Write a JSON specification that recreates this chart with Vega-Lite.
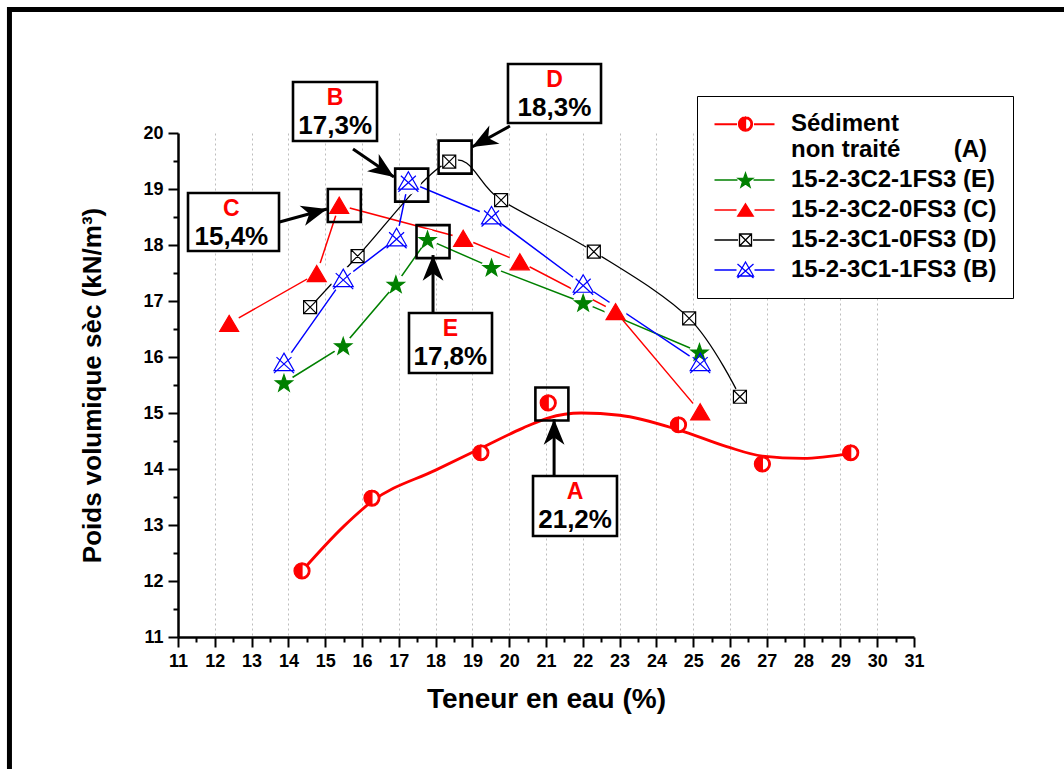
{
  "$schema": "https://vega.github.io/schema/vega-lite/v6.json",
  "width": 736,
  "height": 504,
  "autosize": "none",
  "padding": {"left": 178, "top": 133, "right": 150, "bottom": 132},
  "background": "white",
  "config": {
    "view": {"stroke": null},
    "font": "Liberation Sans",
    "axis": {
      "labelFont": "Liberation Sans", "labelFontWeight": "bold", "labelFontSize": 18, "labelColor": "black",
      "titleFont": "Liberation Sans", "titleFontWeight": "bold", "titleFontSize": 26, "titleColor": "black",
      "domainColor": "black", "domainWidth": 2.5, "tickColor": "black", "tickWidth": 2,
      "labelPadding": 5, "gridColor": "#bdbdbd", "gridDash": [2, 3], "gridWidth": 1
    },
    "legend": {
      "labelFont": "Liberation Sans", "labelFontWeight": "bold", "labelFontSize": 24, "labelColor": "black",
      "labelLimit": 400, "symbolSize": 400, "symbolStrokeWidth": 1.3, "padding": 16,
      "strokeColor": "black", "fillColor": "white", "rowPadding": 6, "labelOffset": 54
    }
  },
  "resolve": {"axis": {"x": "independent", "y": "independent"}},
  "datasets": {
    "pts": [
      {"s": "A", "x": 14.37, "y": 12.18}, {"s": "A", "x": 16.27, "y": 13.48}, {"s": "A", "x": 19.23, "y": 14.29},
      {"s": "A", "x": 21.06, "y": 15.18}, {"s": "A", "x": 24.6, "y": 14.79}, {"s": "A", "x": 26.88, "y": 14.09},
      {"s": "A", "x": 29.28, "y": 14.29},
      {"s": "E", "x": 13.88, "y": 15.54}, {"s": "E", "x": 15.49, "y": 16.2}, {"s": "E", "x": 16.92, "y": 17.3},
      {"s": "E", "x": 17.78, "y": 18.1}, {"s": "E", "x": 19.52, "y": 17.6}, {"s": "E", "x": 22.01, "y": 16.97},
      {"s": "E", "x": 25.17, "y": 16.09},
      {"s": "C", "x": 12.39, "y": 16.6}, {"s": "C", "x": 14.77, "y": 17.49}, {"s": "C", "x": 15.38, "y": 18.71},
      {"s": "C", "x": 18.75, "y": 18.12}, {"s": "C", "x": 20.29, "y": 17.7}, {"s": "C", "x": 22.89, "y": 16.81},
      {"s": "C", "x": 25.19, "y": 15.02},
      {"s": "D", "x": 14.59, "y": 16.89}, {"s": "D", "x": 15.88, "y": 17.8}, {"s": "D", "x": 18.37, "y": 19.49},
      {"s": "D", "x": 19.78, "y": 18.8}, {"s": "D", "x": 22.3, "y": 17.88}, {"s": "D", "x": 24.89, "y": 16.69},
      {"s": "D", "x": 26.27, "y": 15.29},
      {"s": "B", "x": 13.88, "y": 15.89}, {"s": "B", "x": 15.49, "y": 17.39}, {"s": "B", "x": 16.94, "y": 18.12},
      {"s": "B", "x": 17.26, "y": 19.13}, {"s": "B", "x": 19.52, "y": 18.51}, {"s": "B", "x": 22.01, "y": 17.29},
      {"s": "B", "x": 25.19, "y": 15.89}
    ],
    "curve": [
      {"x": 14.37, "y": 12.18}, {"x": 15.51, "y": 12.98}, {"x": 16.27, "y": 13.42}, {"x": 18.0, "y": 13.98},
      {"x": 19.23, "y": 14.37}, {"x": 20.37, "y": 14.73}, {"x": 21.05, "y": 14.91}, {"x": 21.96, "y": 15.0},
      {"x": 23.0, "y": 14.96}, {"x": 24.6, "y": 14.7}, {"x": 25.91, "y": 14.4}, {"x": 26.88, "y": 14.23},
      {"x": 27.98, "y": 14.19}, {"x": 29.28, "y": 14.28}
    ],
    "ann": [
      {"lab": "B", "pct": "17,3%", "bx": 17.35, "by": 19.07, "lx1": 14.125, "lx2": 16.408, "ly1": 20.911, "ly2": 19.857, "tx": 15.27, "ty1": 20.625, "ty2": 20.125, "ax1": 15.755, "ay1": 19.714, "ax2": 16.87, "ay2": 19.214},
      {"lab": "D", "pct": "18,3%", "bx": 18.53, "by": 19.57, "lx1": 19.967, "lx2": 22.495, "ly1": 21.232, "ly2": 20.179, "tx": 21.23, "ty1": 20.946, "ty2": 20.446, "ax1": 20.02, "ay1": 20.125, "ax2": 18.99, "ay2": 19.75},
      {"lab": "C", "pct": "15,4%", "bx": 15.52, "by": 18.705, "lx1": 11.272, "lx2": 13.745, "ly1": 18.929, "ly2": 17.893, "tx": 12.45, "ty1": 18.643, "ty2": 18.143, "ax1": 13.66, "ay1": 18.393, "ax2": 15.05, "ay2": 18.643},
      {"lab": "E", "pct": "17,8%", "bx": 17.93, "by": 18.06, "lx1": 17.277, "lx2": 19.533, "ly1": 16.786, "ly2": 15.714, "tx": 18.4, "ty1": 16.5, "ty2": 16.0, "ax1": 17.93, "ay1": 16.8, "ax2": 17.93, "ay2": 17.82},
      {"lab": "A", "pct": "21,2%", "bx": 21.16, "by": 15.16, "lx1": 20.647, "lx2": 22.929, "ly1": 13.875, "ly2": 12.804, "tx": 21.79, "ty1": 13.589, "ty2": 13.089, "ax1": 21.22, "ay1": 13.84, "ax2": 21.22, "ay2": 14.89}
    ]
  },
  "layer": [
    {
      "data": {"name": "pts"},
      "transform": [{"filter": "false"}],
      "mark": {"type": "point", "opacity": 0},
      "encoding": {
        "x": {"field": "x", "type": "quantitative", "scale": {"domain": [11, 31], "nice": false, "zero": false},
          "axis": {"orient": "bottom", "title": null, "values": [12, 13, 14, 15, 16, 17, 18, 19, 20, 21, 22, 23, 24, 25, 26, 27, 28, 29, 30],
            "grid": true, "ticks": false, "labels": false, "domain": false}},
        "y": {"field": "y", "type": "quantitative", "scale": {"domain": [11, 20], "nice": false, "zero": false},
          "axis": {"orient": "left", "title": null, "values": [11], "grid": false, "ticks": false, "labels": false, "domain": false}}
      }
    },
    {
      "data": {"name": "pts"},
      "transform": [{"filter": "false"}],
      "mark": {"type": "point", "opacity": 0},
      "encoding": {
        "x": {"field": "x", "type": "quantitative", "scale": {"domain": [11, 31], "nice": false, "zero": false},
          "axis": {"orient": "bottom", "title": null, "values": [11.5, 12.5, 13.5, 14.5, 15.5, 16.5, 17.5, 18.5, 19.5, 20.5, 21.5, 22.5, 23.5, 24.5, 25.5, 26.5, 27.5, 28.5, 29.5, 30.5],
            "grid": false, "ticks": true, "tickSize": 5, "labels": false, "domain": false}},
        "y": {"field": "y", "type": "quantitative", "scale": {"domain": [11, 20], "nice": false, "zero": false},
          "axis": {"orient": "left", "title": null, "values": [11.5, 12.5, 13.5, 14.5, 15.5, 16.5, 17.5, 18.5, 19.5],
            "grid": false, "ticks": true, "tickSize": 5, "labels": false, "domain": false}}
      }
    },
    {
      "data": {"name": "pts"},
      "transform": [{"filter": "false"}],
      "mark": {"type": "point", "opacity": 0},
      "encoding": {
        "x": {"field": "x", "type": "quantitative", "scale": {"domain": [11, 31], "nice": false, "zero": false},
          "axis": {"orient": "bottom", "title": "Teneur en eau (%)", "format": "d", "titleFontSize": 28,
            "values": [11, 12, 13, 14, 15, 16, 17, 18, 19, 20, 21, 22, 23, 24, 25, 26, 27, 28, 29, 30, 31],
            "grid": false, "tickSize": 10, "labelOverlap": false, "labelFlush": false, "titlePadding": 15}},
        "y": {"field": "y", "type": "quantitative", "scale": {"domain": [11, 20], "nice": false, "zero": false},
          "axis": {"orient": "left", "title": "Poids volumique sèc (kN/m³)", "format": "d",
            "values": [11, 12, 13, 14, 15, 16, 17, 18, 19, 20],
            "grid": false, "tickSize": 10, "labelOverlap": false, "labelFlush": false, "titlePadding": 37}}
      }
    },
    {
      "data": {"name": "curve"},
      "mark": {"type": "rect", "fill": null, "stroke": "black", "strokeWidth": 5, "filled": false},
      "transform": [{"filter": "datum.x === 14.37"}],
      "encoding": {
        "x": {"datum": 6.42, "type": "quantitative", "scale": {"domain": [11, 31], "nice": false, "zero": false}, "axis": null},
        "x2": {"datum": 36.05},
        "y": {"datum": 22.205, "type": "quantitative", "scale": {"domain": [11, 20], "nice": false, "zero": false}, "axis": null},
        "y2": {"datum": 8.09}
      }
    },
    {
      "data": {"name": "curve"},
      "mark": {"type": "line", "interpolate": "monotone", "stroke": "#ff0000", "strokeWidth": 2.8},
      "encoding": {
        "x": {"field": "x", "type": "quantitative", "scale": {"domain": [11, 31], "nice": false, "zero": false}, "axis": null},
        "y": {"field": "y", "type": "quantitative", "scale": {"domain": [11, 20], "nice": false, "zero": false}, "axis": null}
      }
    },
    {
      "data": {"name": "pts"},
      "transform": [{"filter": "datum.s === 'E'"}],
      "mark": {"type": "line", "stroke": "#008000", "strokeWidth": 1.5},
      "encoding": {
        "x": {"field": "x", "type": "quantitative", "scale": {"domain": [11, 31], "nice": false, "zero": false}, "axis": null},
        "y": {"field": "y", "type": "quantitative", "scale": {"domain": [11, 20], "nice": false, "zero": false}, "axis": null}
      }
    },
    {
      "data": {"name": "pts"},
      "transform": [{"filter": "datum.s === 'C'"}],
      "mark": {"type": "line", "stroke": "#ff0000", "strokeWidth": 1.5},
      "encoding": {
        "x": {"field": "x", "type": "quantitative", "scale": {"domain": [11, 31], "nice": false, "zero": false}, "axis": null},
        "y": {"field": "y", "type": "quantitative", "scale": {"domain": [11, 20], "nice": false, "zero": false}, "axis": null}
      }
    },
    {
      "data": {"name": "pts"},
      "transform": [{"filter": "datum.s === 'B'"}],
      "mark": {"type": "line", "stroke": "#0000ff", "strokeWidth": 1.5},
      "encoding": {
        "x": {"field": "x", "type": "quantitative", "scale": {"domain": [11, 31], "nice": false, "zero": false}, "axis": null},
        "y": {"field": "y", "type": "quantitative", "scale": {"domain": [11, 20], "nice": false, "zero": false}, "axis": null}
      }
    },
    {
      "data": {"name": "pts"},
      "transform": [{"filter": "datum.s === 'D'"}],
      "mark": {"type": "line", "stroke": "#000000", "strokeWidth": 1.3, "interpolate": "cardinal"},
      "encoding": {
        "x": {"field": "x", "type": "quantitative", "scale": {"domain": [11, 31], "nice": false, "zero": false}, "axis": null},
        "y": {"field": "y", "type": "quantitative", "scale": {"domain": [11, 20], "nice": false, "zero": false}, "axis": null}
      }
    },
    {
      "data": {"name": "pts"},
      "mark": {"type": "point", "shape": "circle", "filled": true, "fill": "white", "stroke": null, "opacity": 1},
      "encoding": {
        "x": {"field": "x", "type": "quantitative", "scale": {"domain": [11, 31], "nice": false, "zero": false}, "axis": null},
        "y": {"field": "y", "type": "quantitative", "scale": {"domain": [11, 20], "nice": false, "zero": false}, "axis": null},
        "size": {"condition": [
          {"test": "datum.s === 'A'", "value": 225},
          {"test": "datum.s === 'E'", "value": 420},
          {"test": "datum.s === 'C'", "value": 484},
          {"test": "datum.s === 'D'", "value": 324}
        ], "value": 650}
      }
    },
    {
      "data": {"name": "pts"},
      "mark": {"type": "point", "filled": true, "opacity": 1, "strokeWidth": 1.2},
      "encoding": {
        "x": {"field": "x", "type": "quantitative", "scale": {"domain": [11, 31], "nice": false, "zero": false}, "axis": null},
        "y": {"field": "y", "type": "quantitative", "scale": {"domain": [11, 20], "nice": false, "zero": false}, "axis": null},
        "shape": {"condition": [
          {"test": "datum.s === 'A'", "value": "M0,-1A1,1,0,0,0,0,1ZM0,-1A1,1,0,0,1,0,1L0,0.8A0.8,0.8,0,0,0,0,-0.8Z"},
          {"test": "datum.s === 'E'", "value": "M0,-0.905L0.235,-0.229L0.951,-0.214L0.38,0.219L0.588,0.904L0,0.495L-0.588,0.904L-0.38,0.219L-0.951,-0.214L-0.235,-0.229Z"},
          {"test": "datum.s === 'C'", "value": "M0,-0.85L1,0.85H-1Z"},
          {"test": "datum.s === 'D'", "value": "M-1,-1H1V1H-1ZM-1,-1L1,1M1,-1L-1,1"}
        ], "value": "M0,-1L1,0.75H-1ZM-0.75,-0.6L1,1M0.75,-0.6L-1,1"},
        "fill": {"condition": [
          {"test": "datum.s === 'A'", "value": "#ff0000"},
          {"test": "datum.s === 'E'", "value": "#008000"},
          {"test": "datum.s === 'C'", "value": "#ff0000"},
          {"test": "datum.s === 'D'", "value": "#ffffff"}
        ], "value": "transparent"},
        "stroke": {"condition": [
          {"test": "datum.s === 'A'", "value": "#ff0000"},
          {"test": "datum.s === 'E'", "value": "#008000"},
          {"test": "datum.s === 'C'", "value": "#ff0000"},
          {"test": "datum.s === 'D'", "value": "#000000"}
        ], "value": "#0000ff"},
        "size": {"condition": [
          {"test": "datum.s === 'A'", "value": 256},
          {"test": "datum.s === 'E'", "value": 324},
          {"test": "datum.s === 'C'", "value": 361},
          {"test": "datum.s === 'D'", "value": 169}
        ], "value": 400}
      }
    },
    {
      "data": {"name": "pts"},
      "transform": [{"filter": "false"}],
      "mark": {"type": "point", "filled": true, "opacity": 1, "strokeWidth": 1.3},
      "encoding": {
        "x": {"field": "x", "type": "quantitative", "scale": {"domain": [11, 31], "nice": false, "zero": false}, "axis": null},
        "y": {"field": "y", "type": "quantitative", "scale": {"domain": [11, 20], "nice": false, "zero": false}, "axis": null},
        "shape": {"field": "s", "type": "nominal",
          "scale": {"domain": ["A", "E", "C", "D", "B"], "range": [
            "M-1.05,0H1.2M2.9,0H4.95M-1.05,0.06H1.2M2.9,0.06H4.95M2.05,-0.7A0.7,0.7,0,0,0,2.05,0.7ZM2.05,-0.7A0.7,0.7,0,0,1,2.05,0.7L2.05,0.55A0.55,0.55,0,0,0,2.05,-0.55Z",
            "M-1.05,0H1.25M2.85,0H4.95M2.05,-0.706L2.233,-0.179L2.792,-0.167L2.346,0.171L2.509,0.705L2.05,0.386L1.591,0.705L1.754,0.171L1.308,-0.167L1.867,-0.179Z",
            "M-1.05,0H1.15M2.95,0H4.95M2.05,-0.62L2.83,0.62H1.27Z",
            "M-1.05,0H1.3M2.8,0H4.95M1.45,-0.6H2.65V0.6H1.45ZM1.45,-0.6L2.65,0.6M2.65,-0.6L1.45,0.6",
            "M-1.05,0H1.15M2.95,0H4.95M2.05,-0.8L2.85,0.6H1.25ZM1.25,-0.6L2.85,0.8M2.85,-0.6L1.25,0.8"
          ]},
          "legend": {
            "title": null, "orient": "none", "legendX": 519, "legendY": -37,
            "labelExpr": "datum.value === 'A' ? ['\u00a0Sédiment', 'non traité\u00a0\u00a0\u00a0\u00a0\u00a0\u00a0\u00a0\u00a0(A)'] : datum.value === 'E' ? '15-2-3C2-1FS3 (E)' : datum.value === 'C' ? '15-2-3C2-0FS3 (C)' : datum.value === 'D' ? '15-2-3C1-0FS3 (D)' : '15-2-3C1-1FS3 (B)'"
          }},
        "fill": {"field": "s", "type": "nominal",
          "scale": {"domain": ["A", "E", "C", "D", "B"], "range": ["#ff0000", "#008000", "#ff0000", "#ffffff", "transparent"]},
          "legend": {
            "title": null, "orient": "none", "legendX": 519, "legendY": -37,
            "labelExpr": "datum.value === 'A' ? ['\u00a0Sédiment', 'non traité\u00a0\u00a0\u00a0\u00a0\u00a0\u00a0\u00a0\u00a0(A)'] : datum.value === 'E' ? '15-2-3C2-1FS3 (E)' : datum.value === 'C' ? '15-2-3C2-0FS3 (C)' : datum.value === 'D' ? '15-2-3C1-0FS3 (D)' : '15-2-3C1-1FS3 (B)'"
          }},
        "stroke": {"field": "s", "type": "nominal",
          "scale": {"domain": ["A", "E", "C", "D", "B"], "range": ["#ff0000", "#008000", "#ff0000", "#000000", "#0000ff"]},
          "legend": {
            "title": null, "orient": "none", "legendX": 519, "legendY": -37,
            "labelExpr": "datum.value === 'A' ? ['\u00a0Sédiment', 'non traité\u00a0\u00a0\u00a0\u00a0\u00a0\u00a0\u00a0\u00a0(A)'] : datum.value === 'E' ? '15-2-3C2-1FS3 (E)' : datum.value === 'C' ? '15-2-3C2-0FS3 (C)' : datum.value === 'D' ? '15-2-3C1-0FS3 (D)' : '15-2-3C1-1FS3 (B)'"
          }}
      }
    },
    {
      "data": {"name": "ann"},
      "mark": {"type": "point", "shape": "square", "filled": false, "stroke": "black", "strokeWidth": 2.6, "opacity": 1, "size": 1089},
      "encoding": {
        "x": {"field": "bx", "type": "quantitative", "scale": {"domain": [11, 31], "nice": false, "zero": false}, "axis": null},
        "y": {"field": "by", "type": "quantitative", "scale": {"domain": [11, 20], "nice": false, "zero": false}, "axis": null}
      }
    },
    {
      "data": {"name": "ann"},
      "mark": {"type": "rule", "stroke": "black", "strokeWidth": 3},
      "encoding": {
        "x": {"field": "ax1", "type": "quantitative", "scale": {"domain": [11, 31], "nice": false, "zero": false}, "axis": null},
        "y": {"field": "ay1", "type": "quantitative", "scale": {"domain": [11, 20], "nice": false, "zero": false}, "axis": null},
        "x2": {"field": "ax2"},
        "y2": {"field": "ay2"}
      }
    },
    {
      "data": {"name": "ann"},
      "transform": [{"calculate": "atan2((datum.ax2 - datum.ax1) * 36.8, (datum.ay2 - datum.ay1) * 56) * 180 / PI", "as": "ang"}],
      "mark": {"type": "point", "shape": "M0,0L0.65,1.6L0,1.15L-0.65,1.6Z", "filled": true, "fill": "black", "stroke": null, "opacity": 1, "size": 1024},
      "encoding": {
        "x": {"field": "ax2", "type": "quantitative", "scale": {"domain": [11, 31], "nice": false, "zero": false}, "axis": null},
        "y": {"field": "ay2", "type": "quantitative", "scale": {"domain": [11, 20], "nice": false, "zero": false}, "axis": null},
        "angle": {"field": "ang", "type": "quantitative", "scale": null}
      }
    },
    {
      "data": {"name": "ann"},
      "mark": {"type": "rect", "fill": "white", "stroke": "black", "strokeWidth": 2.6},
      "encoding": {
        "x": {"field": "lx1", "type": "quantitative", "scale": {"domain": [11, 31], "nice": false, "zero": false}, "axis": null},
        "x2": {"field": "lx2"},
        "y": {"field": "ly1", "type": "quantitative", "scale": {"domain": [11, 20], "nice": false, "zero": false}, "axis": null},
        "y2": {"field": "ly2"}
      }
    },
    {
      "data": {"name": "ann"},
      "mark": {"type": "text", "font": "Liberation Sans", "fontWeight": "bold", "fontSize": 23, "fill": "#ff0000", "align": "center", "baseline": "middle"},
      "encoding": {
        "x": {"field": "tx", "type": "quantitative", "scale": {"domain": [11, 31], "nice": false, "zero": false}, "axis": null},
        "y": {"field": "ty1", "type": "quantitative", "scale": {"domain": [11, 20], "nice": false, "zero": false}, "axis": null},
        "text": {"field": "lab"}
      }
    },
    {
      "data": {"name": "ann"},
      "mark": {"type": "text", "font": "Liberation Sans", "fontWeight": "bold", "fontSize": 26, "fill": "black", "align": "center", "baseline": "middle"},
      "encoding": {
        "x": {"field": "tx", "type": "quantitative", "scale": {"domain": [11, 31], "nice": false, "zero": false}, "axis": null},
        "y": {"field": "ty2", "type": "quantitative", "scale": {"domain": [11, 20], "nice": false, "zero": false}, "axis": null},
        "text": {"field": "pct"}
      }
    }
  ]
}
